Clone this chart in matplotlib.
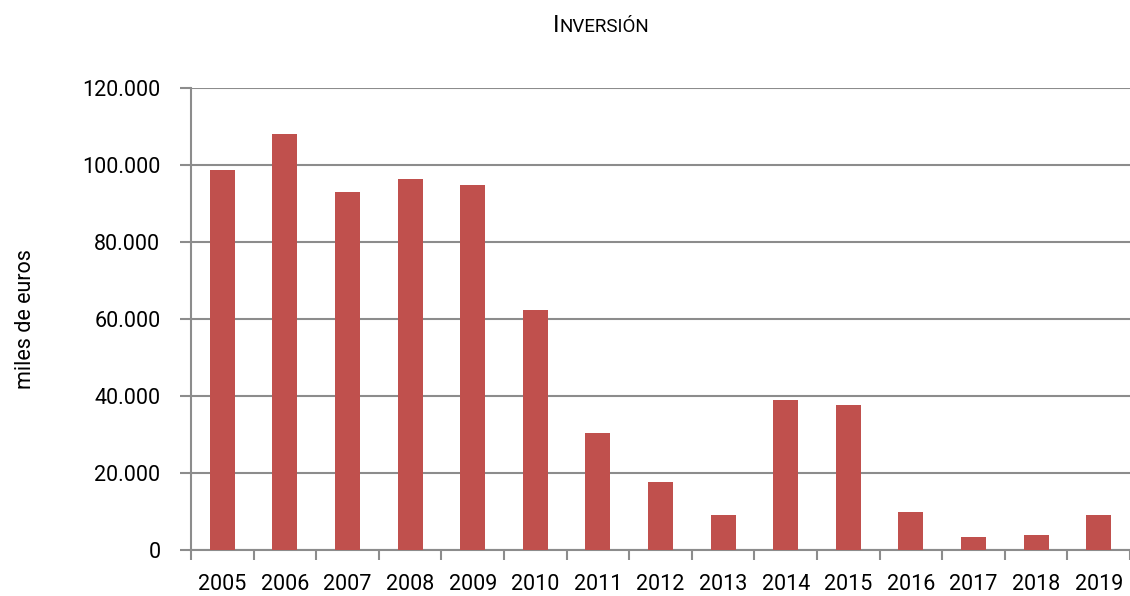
import matplotlib.pyplot as plt
import numpy as np
from matplotlib.ticker import FuncFormatter

plt.rcParams['font.family'] = ['Roboto', 'DejaVu Sans']

years = ['2005', '2006', '2007', '2008', '2009', '2010', '2011', '2012',
         '2013', '2014', '2015', '2016', '2017', '2018', '2019']
inversion = [98700, 108000, 93000, 96400, 94800, 62300, 30400, 17700,
             9100, 39000, 37700, 9800, 3300, 4000, 9000]

grid_col = '#8c8c8c'

fig = plt.figure(figsize=(11.3, 5.96), dpi=100)
ax = fig.add_axes([0.169, 0.0772, 0.831, 0.7751])

x = np.arange(len(years))
ax.bar(x, inversion, width=0.4, color='#C0504D', zorder=3)

ax.set_xlim(-0.5, len(years) - 0.5)
ax.set_ylim(0, 120000)
ax.set_yticks(np.arange(0, 120001, 20000))
ax.yaxis.set_major_formatter(FuncFormatter(lambda v, p: f'{int(v):,}'.replace(',', '.')))
ax.yaxis.grid(True, color=grid_col, linewidth=1.5, zorder=0)

ax.set_xticks(x)
ax.set_xticklabels(years)
ax.set_xticks(np.arange(-0.5, len(years)), minor=True)
ax.tick_params(axis='x', which='major', length=0, pad=17, labelsize=15.5)
ax.tick_params(axis='x', which='minor', length=7, width=1.5, color=grid_col)
ax.tick_params(axis='y', length=8, width=1.5, color=grid_col, pad=14, labelsize=15.5)

for s in ['top', 'right']:
    ax.spines[s].set_visible(False)
for s in ['left', 'bottom']:
    ax.spines[s].set_color(grid_col)
    ax.spines[s].set_linewidth(1.5)

ax.set_ylabel('miles de euros', fontsize=15.5, labelpad=33)

# title in small caps
fig.text(0.4894, 0.946, 'I', fontsize=17, ha='left', va='baseline')
fig.text(0.4950, 0.946, 'NVERSIÓN', fontsize=13.5, ha='left', va='baseline')

fig.savefig('out.png', dpi=100)
